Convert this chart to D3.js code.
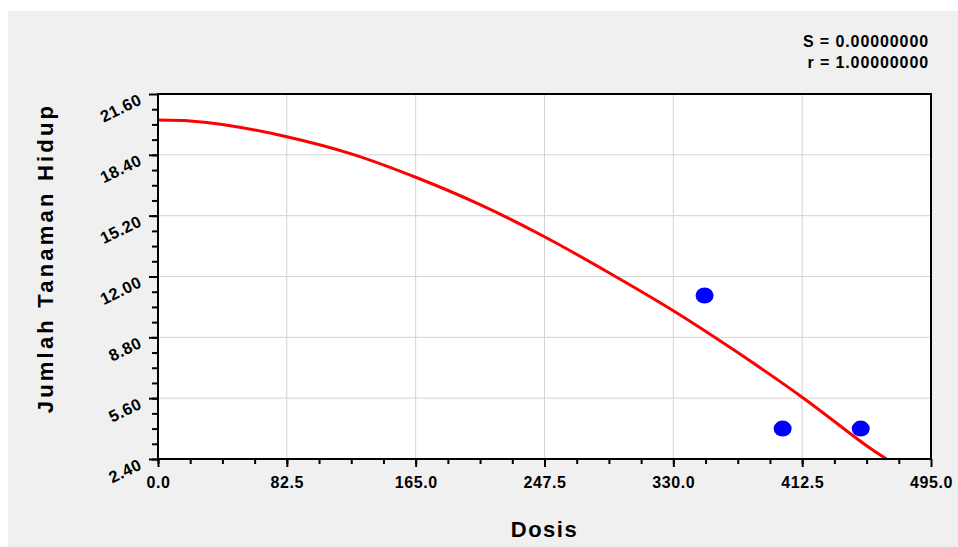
<meta charset="utf-8">
<head>
<title>Jumlah Tanaman Hidup vs Dosis</title>
<script src="https://d3js.org/d3.v7.min.js"></script>
<style>
body { margin: 0; background: #ffffff; }
text { font-family: "Liberation Sans", Arial, sans-serif; font-weight: bold; fill: #000; }
.grid line { stroke: #d4d4d4; stroke-width: 1; }
.axis path { display: none; }
.axis line { stroke: #000; stroke-width: 2; }
.xtick text { font-size: 16px; letter-spacing: 0.6px; }
.ytick text { font-size: 16.5px; letter-spacing: 0.5px; }
.stat { font-size: 16px; letter-spacing: 0.9px; }
.axistitle { font-size: 22px; letter-spacing: 1.5px; }
.ytitle { letter-spacing: 3.2px; }
</style>
</head>
<body>
<svg width="958" height="547"></svg>
<script>

// data
var dosis = [350, 400, 450];
var hidup = [11, 4, 4];

var fitX = [0, 20.6, 41.25, 82.5, 123.75, 165, 206.25, 247.5, 288.75, 330, 371.25, 412.5, 453.75, 466.5];
var fitY = [20.23, 20.18, 20.0, 19.35, 18.45, 17.22, 15.78, 14.09, 12.2, 10.2, 8.0, 5.65, 3.1, 2.4];

var xTicks = [0, 82.5, 165, 247.5, 330, 412.5, 495];
var yTicks = [2.4, 5.6, 8.8, 12, 15.2, 18.4, 21.6];
var statLines = ["S = 0.00000000", "r = 1.00000000"];

var svg = d3.select("svg"),
    margin = {top: 94, right: 27, bottom: 88, left: 158},
    width = +svg.attr("width") - margin.left - margin.right,
    height = +svg.attr("height") - margin.top - margin.bottom;

svg.append("rect")
    .attr("x", 8).attr("y", 11)
    .attr("width", 950).attr("height", 536)
    .attr("fill", "#f0f0f0");

var x = d3.scaleLinear().domain([0, 495]).range([0, width]),
    y = d3.scaleLinear().domain([2.4, 21.6]).range([height, 0]);

var g = svg.append("g")
    .attr("transform", "translate(" + margin.left + "," + margin.top + ")");

g.append("rect")
    .attr("width", width).attr("height", height)
    .attr("fill", "#ffffff");

/*grid*/
g.append("g").attr("class", "grid")
  .selectAll("line").data(xTicks.slice(1, -1)).enter().append("line")
    .attr("x1", function(d) { return x(d); }).attr("x2", function(d) { return x(d); })
    .attr("y1", 0).attr("y2", height);
g.append("g").attr("class", "grid")
  .selectAll("line").data(yTicks.slice(1, -1)).enter().append("line")
    .attr("y1", function(d) { return y(d); }).attr("y2", function(d) { return y(d); })
    .attr("x1", 0).attr("x2", width);

/*minor ticks*/
var xMinor = d3.range(0, 24).map(function(i) { return i * 20.625; });
var yMinor = d3.range(0, 24).map(function(i) { return 2.4 + i * 0.8; });

g.append("g").attr("class", "axis")
    .attr("transform", "translate(0," + height + ")")
    .call(d3.axisBottom(x).tickValues(xMinor).tickSize(5).tickFormat(""));
g.append("g").attr("class", "axis")
    .call(d3.axisLeft(y).tickValues(yMinor).tickSize(6).tickFormat(""));

/*major ticks*/
g.append("g").attr("class", "axis xtick")
    .attr("transform", "translate(0," + height + ")")
    .call(d3.axisBottom(x).tickValues(xTicks).tickSize(8).tickPadding(10).tickFormat(d3.format(".1f")));

g.append("g").attr("class", "axis ytick")
    .call(d3.axisLeft(y).tickValues(yTicks).tickSize(9).tickFormat(d3.format(".2f")))
  .selectAll("text")
    .attr("x", 0).attr("dy", 0)
    .attr("transform", "translate(-15,9) rotate(-26)")
    .style("text-anchor", "end");

/*curve*/
g.append("clipPath").attr("id", "clip")
  .append("rect").attr("width", width).attr("height", height);

var line = d3.line()
    .x(function(d) { return x(d[0]); })
    .y(function(d) { return y(d[1]); })
    .curve(d3.curveCatmullRom);

g.append("path")
    .datum(d3.zip(fitX, fitY))
    .attr("clip-path", "url(#clip)")
    .attr("fill", "none")
    .attr("stroke", "#ff0000")
    .attr("stroke-width", 3)
    .attr("d", line);

/*points*/
g.selectAll(".dot")
    .data(d3.zip(dosis, hidup))
    .enter().append("ellipse")
    .attr("class", "dot")
    .attr("cx", function(d) { return x(d[0]); })
    .attr("cy", function(d) { return y(d[1]); })
    .attr("rx", 9).attr("ry", 8)
    .attr("fill", "#0000ff");

/*frame*/
g.append("rect")
    .attr("width", width).attr("height", height)
    .attr("fill", "none").attr("stroke", "#000").attr("stroke-width", 2);

/*text*/
svg.selectAll(".stat")
    .data(statLines)
    .enter().append("text")
    .attr("class", "stat")
    .attr("x", 929)
    .attr("y", function(d, i) { return 47 + i * 21; })
    .attr("text-anchor", "end")
    .text(function(d) { return d; });

svg.append("text")
    .attr("class", "axistitle")
    .attr("x", margin.left + width / 2)
    .attr("y", 537)
    .attr("text-anchor", "middle")
    .text("Dosis");

svg.append("text")
    .attr("class", "axistitle ytitle")
    .attr("transform", "translate(53,258) rotate(-90)")
    .attr("text-anchor", "middle")
    .text("Jumlah Tanaman Hidup");

</script>
</body>
